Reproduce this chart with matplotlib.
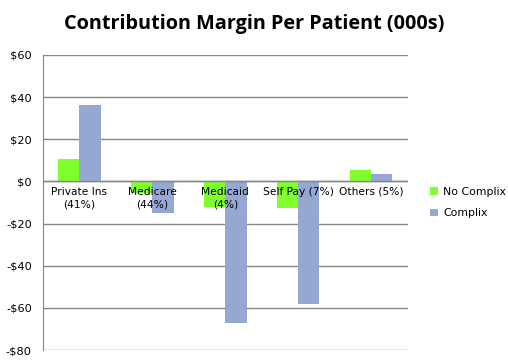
import matplotlib
matplotlib.use("Agg")
import matplotlib.pyplot as plt
import numpy as np

categories = ["Private Ins\n(41%)", "Medicare\n(44%)", "Medicaid\n(4%)", "Self Pay (7%)", "Others (5%)"]
no_complix = [10.5, -5.4, -12.2, -12.7, 5.2]
complix = [36.2, -14.9, -67.0, -58.0, 3.3]
yticks = [-80, -60, -40, -20, 0, 20, 40, 60]

fig = plt.figure(figsize=(5.08, 3.63), dpi=100)
ax = fig.add_axes([0.0846, 0.0358, 0.718, 0.8127])

x = np.arange(len(categories))
w = 0.29
ax.bar(x - w/2, no_complix, w, color="#80FF2E", label="No Complix", zorder=3)
ax.bar(x + w/2, complix, w, color="#94A8D1", label="Complix", zorder=3)

ax.set_xlim(-0.5, len(categories) - 0.5)
ax.set_ylim(-80, 60)
ax.set_yticks(yticks)
ax.set_yticklabels([("-$%d" % abs(v)) if v < 0 else ("$%d" % v) for v in yticks],
                   fontsize=8.2, family="DejaVu Sans")
ax.tick_params(axis="y", length=0, pad=8)
ax.set_xticks([])
ax.grid(axis="y", color="#868686", linewidth=1, zorder=0)
for s in ["top", "right", "bottom"]:
    ax.spines[s].set_visible(False)
ax.spines["left"].set_color("#868686")
ax.spines["left"].set_zorder(4)
ax.axhline(0, color="#868686", linewidth=1, zorder=4)

for i, c in enumerate(categories):
    ax.text(i, -2.5, c, ha="center", va="top", fontsize=7.7, family="DejaVu Sans",
            zorder=5, linespacing=1.3)

fig.text(0.5, 0.935, "Contribution Margin Per Patient (000s)", ha="center", va="center",
         fontsize=14.3, fontweight="bold", family="Open Sans")

ax.legend(loc="center left", bbox_to_anchor=(1.035, 0.50), frameon=False,
          handlelength=0.7, handleheight=0.7, handletextpad=0.5, labelspacing=1.1,
          prop={"family": "DejaVu Sans", "size": 7.8})

fig.savefig("out.png", dpi=100)
